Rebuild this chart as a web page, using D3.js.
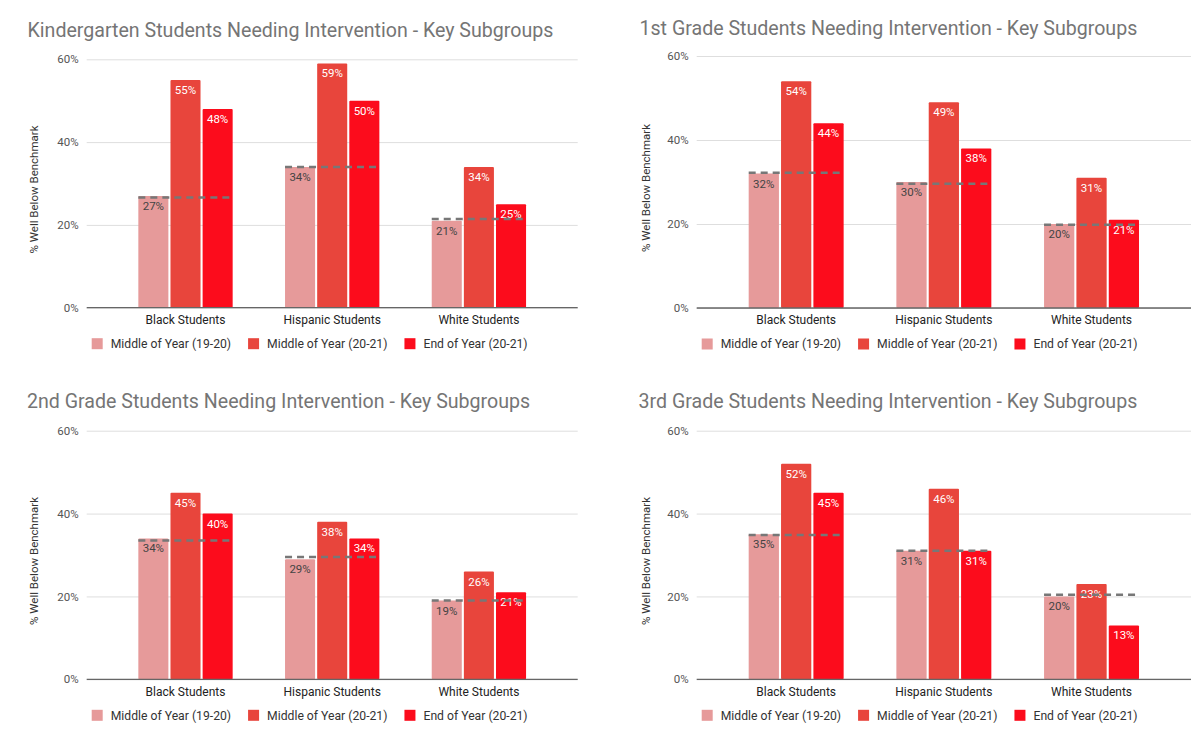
<!DOCTYPE html>
<html>
<head>
<meta charset="utf-8">
<script src="https://cdn.jsdelivr.net/npm/d3@7"></script>
<style>
  body { margin: 0; background: #fff; }
  svg { font-family: Roboto, Arial, sans-serif; }
  .grid line { stroke: #dedede; }
  .grid text { fill: #555; font-size: 11.5px; font-family: Roboto, Arial, sans-serif; }
</style>
</head>
<body>
<svg id="chart" width="1200" height="745"></svg>
<script>
const titles = [
  "Kindergarten Students Needing Intervention - Key Subgroups",
  "1st Grade Students Needing Intervention - Key Subgroups",
  "2nd Grade Students Needing Intervention - Key Subgroups",
  "3rd Grade Students Needing Intervention - Key Subgroups",
];
const categories = ["Black Students", "Hispanic Students", "White Students"];
const seriesNames = ["Middle of Year (19-20)", "Middle of Year (20-21)", "End of Year (20-21)"];

// one row per grade (K, 1st, 2nd, 3rd), one value per category
const moy1920 = [
  [0.27, 0.34, 0.21],
  [0.32, 0.30, 0.20],
  [0.34, 0.29, 0.19],
  [0.35, 0.31, 0.20],
];
const moy2021 = [
  [0.55, 0.59, 0.34],
  [0.54, 0.49, 0.31],
  [0.45, 0.38, 0.26],
  [0.52, 0.46, 0.23],
];
const eoy2021 = [
  [0.48, 0.50, 0.25],
  [0.44, 0.38, 0.21],
  [0.40, 0.34, 0.21],
  [0.45, 0.31, 0.13],
];
// dashed reference line drawn across each group
const refLine = [
  [0.266, 0.34, 0.214],
  [0.322, 0.296, 0.198],
  [0.335, 0.295, 0.19],
  [0.348, 0.31, 0.204],
];
const yTicks = [0, 0.2, 0.4, 0.6];
const yAxisTitle = "% Well Below Benchmark";

const COLORS = ["#e69a9a", "#e8453c", "#fc0c1c"];
const LABEL_COLORS = ["#444", "#fff", "#fff"];

const PANELS = [
  { x0: 86.7, x1: 577.7, top: 59.3, bottom: 307.7, titleX: 27.5, titleY: 37, yTitleX: 34 },
  { x0: 696.7, x1: 1191, top: 56, bottom: 308, titleX: 639.5, titleY: 34.5, yTitleX: 646 },
  { x0: 86.7, x1: 577.7, top: 430.7, bottom: 679.3, titleX: 27, titleY: 408, yTitleX: 34 },
  { x0: 696.7, x1: 1191, top: 430.7, bottom: 679.3, titleX: 638.5, titleY: 408, yTitleX: 646 },
];

const svg = d3.select("#chart");
const seriesData = [moy1920, moy2021, eoy2021];

PANELS.forEach((p, pi) => {
  const g = svg.append("g").attr("class", "panel");

  const x = d3
    .scaleBand()
    .domain(categories)
    .range([p.x0, p.x1])
    .paddingInner(0.357)
    .paddingOuter(0.352);

  const xSub = d3
    .scaleBand()
    .domain(d3.range(seriesNames.length))
    .range([0, x.bandwidth()])
    .paddingInner(0.065);

  const y = d3.scaleLinear().domain([0, 0.6]).range([p.bottom, p.top]);

  g.append("text")
    .attr("x", p.titleX)
    .attr("y", p.titleY)
    .attr("font-size", 19.6)
    .attr("fill", "#757575")
    .text(titles[pi]);

  // gridlines + tick labels
  g.append("g")
    .attr("class", "grid")
    .attr("transform", `translate(${p.x0},0)`)
    .call(
      d3
        .axisLeft(y)
        .tickValues(yTicks)
        .tickFormat(d3.format(".0%"))
        .tickSize(-(p.x1 - p.x0))
        .tickPadding(8)
    )
    .call((a) => a.select(".domain").remove());

  g.append("text")
    .attr("transform", `translate(${p.yTitleX},${(p.top + p.bottom) / 2 + 6}) rotate(-90)`)
    .attr("text-anchor", "middle")
    .attr("dy", "0.35em")
    .attr("font-size", 11.5)
    .attr("fill", "#333")
    .text(yAxisTitle);

  const groups = g
    .selectAll(".cat")
    .data(categories.map((c, ci) => ({
      cat: c,
      values: seriesData.map((s) => s[pi][ci]),
      ref: refLine[pi][ci],
    })))
    .join("g")
    .attr("class", "cat")
    .attr("transform", (d) => `translate(${x(d.cat)},0)`);

  groups
    .selectAll(".bar")
    .data((d) => d.values)
    .join("rect")
    .attr("class", "bar")
    .attr("x", (d, i) => xSub(i))
    .attr("width", xSub.bandwidth())
    .attr("y", (d) => y(d))
    .attr("height", (d) => y(0) - y(d))
    .attr("rx", 1)
    .attr("fill", (d, i) => COLORS[i]);

  groups
    .selectAll(".bar-label")
    .data((d) => d.values)
    .join("text")
    .attr("class", "bar-label")
    .attr("x", (d, i) => xSub(i) + xSub.bandwidth() / 2)
    .attr("y", (d) => y(d) + 14)
    .attr("text-anchor", "middle")
    .attr("font-size", 11.5)
    .attr("fill", (d, i) => LABEL_COLORS[i])
    .text((d) => d3.format(".0%")(d));

  groups
    .append("line")
    .attr("x1", 0)
    .attr("x2", x.bandwidth())
    .attr("y1", (d) => y(d.ref))
    .attr("y2", (d) => y(d.ref))
    .attr("stroke", "#777")
    .attr("stroke-width", 2.5)
    .attr("stroke-dasharray", "7,5");

  // baseline
  g.append("line")
    .attr("x1", p.x0)
    .attr("x2", p.x1)
    .attr("y1", y(0))
    .attr("y2", y(0))
    .attr("stroke", "#666")
    .attr("stroke-width", 1.3);

  g.selectAll(".cat-label")
    .data(categories)
    .join("text")
    .attr("class", "cat-label")
    .attr("x", (d) => x(d) + x.bandwidth() / 2)
    .attr("y", y(0) + 12)
    .attr("dy", "0.35em")
    .attr("text-anchor", "middle")
    .attr("font-size", 12)
    .attr("fill", "#222")
    .text((d) => d);

  // legend, laid out left to right
  const legend = g
    .append("g")
    .attr("transform", `translate(${p.x0 + 5},${y(0) + 36})`);
  let lx = 0;
  seriesNames.forEach((name, i) => {
    legend
      .append("rect")
      .attr("x", lx)
      .attr("y", -5.5)
      .attr("width", 11)
      .attr("height", 11)
      .attr("fill", COLORS[i]);
    const t = legend
      .append("text")
      .attr("x", lx + 19)
      .attr("dy", "0.35em")
      .attr("font-size", 12.2)
      .attr("fill", "#333")
      .text(name);
    lx += 19 + t.node().getComputedTextLength() + 17;
  });
});
</script>
</body>
</html>
